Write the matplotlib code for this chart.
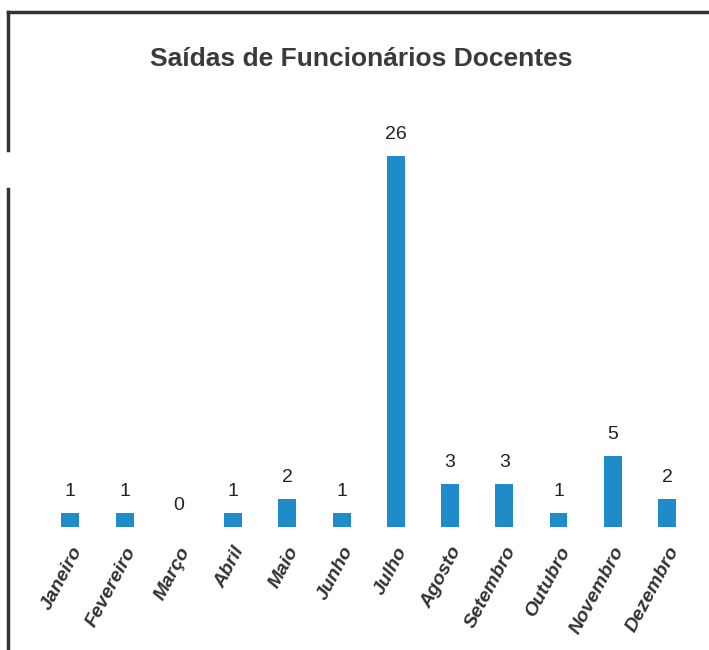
import matplotlib.pyplot as plt
from matplotlib.lines import Line2D

meses = ["Janeiro", "Fevereiro", "Março", "Abril", "Maio", "Junho",
         "Julho", "Agosto", "Setembro", "Outubro", "Novembro", "Dezembro"]
saidas = [1, 1, 0, 1, 2, 1, 26, 3, 3, 1, 5, 2]

narrow = ["Liberation Sans Narrow", "DejaVu Sans Condensed", "Liberation Sans", "DejaVu Sans"]

fig = plt.figure(figsize=(7.09, 6.5), dpi=100)
ax = fig.add_axes([0.061, 0.189, 0.918, 0.615])

x = range(len(meses))
bars = ax.bar(x, saidas, width=0.33, color="#1f8bc9")
ax.set_xlim(-0.5, len(meses) - 0.5)
ax.set_ylim(0, 28)

for b, v in zip(bars, saidas):
    ax.text(b.get_x() + b.get_width() / 2, v + 0.9, str(v), ha="center", va="bottom",
            fontsize=14, color="#222222", family=narrow)

ax.set_xticks(list(x))
ax.set_xticklabels(meses, rotation=62, ha="right", rotation_mode="anchor",
                   fontsize=14, fontweight="bold", fontstyle="italic",
                   color="#333333", family=narrow)
ax.tick_params(axis="x", length=0, pad=12)
ax.set_yticks([])
for s in ax.spines.values():
    s.set_visible(False)

fig.text(0.509, 0.91, "Saídas de Funcionários Docentes", ha="center", va="center",
         fontsize=19, fontweight="bold", color="#3a3a3a", family=narrow)

# scanned frame edges
fig.add_artist(Line2D([0.011, 1.0], [0.982, 0.982], color="#333333", lw=2.5))
fig.add_artist(Line2D([0.011, 0.011], [0.77, 0.982], color="#333333", lw=2.5))
fig.add_artist(Line2D([0.011, 0.011], [0.0, 0.71], color="#333333", lw=2.5))

fig.savefig("out.png", dpi=100)
